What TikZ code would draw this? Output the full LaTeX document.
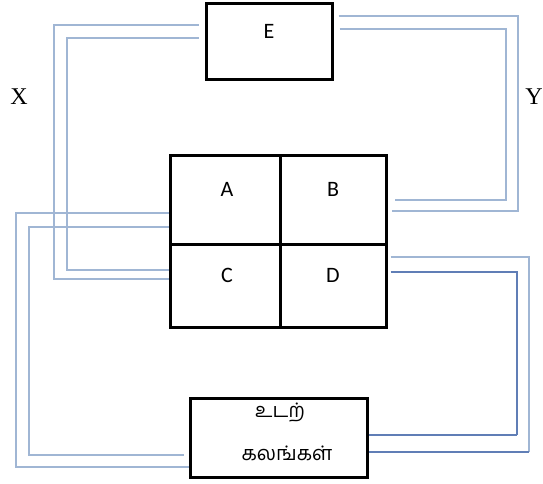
\documentclass[tikz,border=0pt]{standalone}
\usepackage{fontspec}
\setmainfont{Liberation Serif}
\newfontfamily\boxfont{Carlito}
\newfontfamily\tamilfont[Script=Tamil]{Hind Madurai}
\definecolor{wirelight}{RGB}{160,182,212}
\definecolor{wiredark}{RGB}{96,126,182}
\begin{document}
\begin{tikzpicture}[x=1pt,y=-1pt,
  box/.style={draw=black,line width=3pt,fill=none,inner sep=0pt},
  lbl/.style={font=\boxfont\fontsize{22}{26}\selectfont,inner sep=0pt},
  side/.style={font=\fontsize{24}{28}\selectfont,inner sep=0pt},
  tam/.style={font=\tamilfont\fontsize{20}{24}\selectfont,inner sep=0pt},
  wire/.style={draw=wirelight,line width=1.8pt},
  wirestrong/.style={draw=wiredark,line width=1.8pt}]
\useasboundingbox (0,0) rectangle (543,483);
\fill[white] (0,0) rectangle (543,483);
% boxes
\node[box,minimum width=126,minimum height=76] (E) at (269,41) {};
\node[box,minimum width=110,minimum height=89] (A) at (225,199.5) {};
\node[box,minimum width=106,minimum height=89] (B) at (333,199.5) {};
\node[box,minimum width=110,minimum height=83] (C) at (225,285.5) {};
\node[box,minimum width=106,minimum height=83] (D) at (333,285.5) {};
\node[box,minimum width=177,minimum height=79] (body) at (278.5,437.5) {};
% texts
\node[lbl] (tE) at (269,31) {E};
\node[lbl] (tA) at (227,189) {A};
\node[lbl] (tB) at (333,189) {B};
\node[lbl] (tC) at (227,275) {C};
\node[lbl] (tD) at (333,275) {D};
\node[side] (X) at (19,97) {X};
\node[side] (Y) at (534,97) {Y};
\node[tam] (t1) at (280,413) {உடற்};
\node[tam] (t2) at (287,453) {கலங்கள்};
% wires E - C
\draw[wire,shorten <=6pt] (E.west |- 0,25) -| (54,279) -- (C.west |- 0,279);
\draw[wire,shorten <=6pt] (E.west |- 0,38) -| (67,270) -- (C.west |- 0,270);
% wires E - B
\draw[wire,shorten <=5pt,shorten >=4pt] (E.east |- 0,16) -| (518,211) -- (B.east |- 0,211);
\draw[wire,shorten <=6pt,shorten >=7pt] (E.east |- 0,29) -| (506,200) -- (B.east |- 0,200);
% wires A - body
\draw[wire] (A.west |- 0,213) -| (16,467) -- (body.west |- 0,467);
\draw[wire,shorten >=5pt] (A.west |- 0,227) -| (29,455) -- (body.west |- 0,455);
% wires D - body
\coordinate (d1) at (529,452);
\coordinate (d2) at (517,435);
\draw[wire,shorten <=3pt] (D.east |- 0,257) -| (d1);
\draw[wirestrong] (d1) -- (body.east |- 0,452);
\draw[wirestrong,shorten <=3pt] (D.east |- 0,272) -| (d2);
\draw[wirestrong] (d2) -- (body.east |- 0,435);
\end{tikzpicture}
\end{document}
